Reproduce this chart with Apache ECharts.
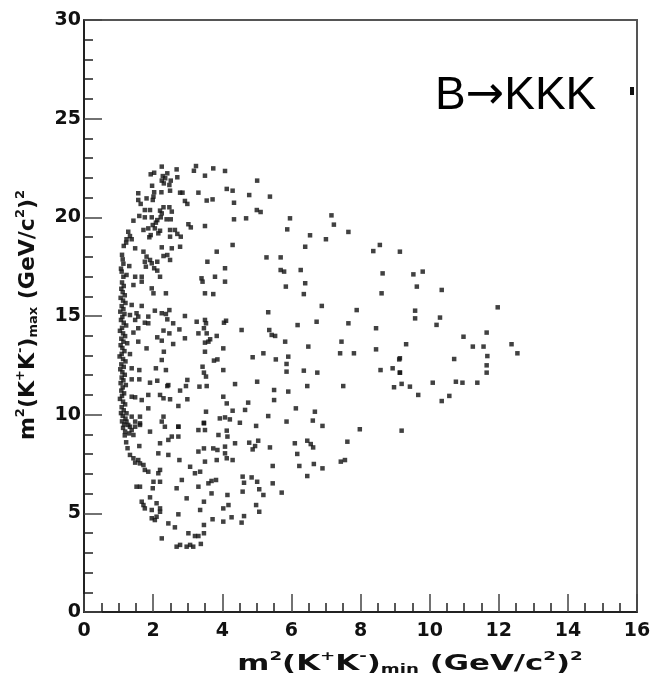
<!DOCTYPE html>
<html>
<head>
<meta charset="utf-8">
<script src="https://cdn.jsdelivr.net/npm/echarts@6/dist/echarts.min.js"></script>
<style>
  html, body { margin: 0; padding: 0; background: #fff; }
  #chart { width: 654px; height: 693px; }
</style>
</head>
<body>
<div id="chart"></div>
<script>
// B -> KKK Dalitz plot: m2(K+K-)max vs m2(K+K-)min
var xRange = [0, 16];
var yRange = [0, 30];
var xStep = 2;
var yStep = 5;

// dense phi band near m2min ~ 1.04
var phiBand = [
  [1.10,16.70],[1.15,16.52],[1.08,16.38],[1.12,16.21],[1.18,16.05],[1.06,15.92],[1.13,15.78],[1.20,15.66],
  [1.09,15.50],[1.14,15.35],[1.05,15.22],[1.17,15.10],[1.11,14.95],[1.07,14.80],[1.15,14.66],[1.22,14.52],
  [1.10,14.40],[1.04,14.25],[1.13,14.12],[1.19,13.98],[1.08,13.85],[1.14,13.70],[1.25,13.62],[1.06,13.52],
  [1.11,13.38],[1.17,13.22],[1.09,13.08],[1.03,12.95],[1.13,12.82],[1.20,12.70],[1.08,12.55],[1.15,12.42],
  [1.05,12.30],[1.11,12.15],[1.18,12.02],[1.09,11.88],[1.14,11.74],[1.06,11.60],[1.21,11.50],[1.12,11.38],
  [1.08,11.22],[1.16,11.08],[1.10,10.95],[1.04,10.80],[1.13,10.66],[1.19,10.52],[1.09,10.38],[1.15,10.22],
  [1.07,10.08],[1.12,9.94],[1.20,9.80],[1.10,9.66],[1.16,9.50],[1.13,9.33],
  [1.15,18.55],[1.10,18.10],[1.14,17.65],[1.07,17.40],[1.18,8.95],[1.22,8.60],[1.26,8.30]
];

var upperLeft = [
  [2.25,22.57],[1.93,22.18],[2.03,22.26],[2.28,22.09],[2.35,21.98],[2.41,22.23],[2.68,22.43],[3.18,22.36],
  [3.24,22.60],[3.50,22.11],[3.74,22.48],[4.08,22.35],[2.25,21.86],[2.31,21.72],[2.51,21.86],[2.47,21.64],
  [2.70,22.03],[1.97,21.60],[2.03,21.27],[2.24,21.27],[2.49,21.35],[2.78,21.25],[2.85,21.25],[3.31,21.25],
  [1.57,21.22],[4.13,21.44],[1.81,20.96],[1.99,20.88],[2.01,21.05],[1.57,20.88],[1.64,20.68],[2.92,20.83],
  [2.99,20.68],[3.55,20.85],[3.72,20.91],[1.76,20.37],[1.91,20.37],[2.20,20.34],[2.30,20.51],[2.25,20.20],
  [2.47,20.51],[2.54,20.29],[1.60,20.07],[1.76,20.00],[1.96,20.00],[2.12,19.86],[2.22,20.00],[2.08,19.73],
  [2.39,19.90],[2.51,19.90],[1.43,19.83],[3.02,19.65],[3.09,19.49],[3.50,19.56],[1.72,19.36],[1.86,19.44],
  [1.99,19.61],[2.05,19.44],[2.20,19.32],[2.15,19.19],[2.49,19.36],[2.63,19.36],[2.70,19.16],[2.80,19.02],
  [2.49,19.02],[1.28,19.27],[1.33,19.05],[1.38,18.89],[1.22,18.72],[1.23,18.89],[1.89,18.99],[1.93,19.10],
  [1.48,18.43],[2.25,18.48],[2.54,18.43],[2.78,18.51],[1.72,18.26],[1.81,18.01],[1.91,17.84],[1.76,17.75],
  [1.79,17.50],[1.96,17.67],[2.12,17.75],[2.03,17.42],[2.12,17.30],[2.30,18.04],[2.41,18.09],[2.49,17.84],
  [1.12,17.87],[1.31,17.53],[3.84,18.26],[3.57,17.75],[4.08,17.42],[1.09,17.25],[1.14,16.99],[1.23,17.08],
  [1.67,16.99],[1.48,16.99],[2.20,16.99],[3.40,16.91],[3.79,16.99]
];

var midLeft = [
  [1.43,16.57],[1.67,16.74],[1.96,16.40],[2.01,16.15],[2.37,16.15],[3.43,16.74],[4.08,16.74],[3.50,16.15],
  [3.74,16.11],[1.38,15.56],[1.67,15.51],[1.52,15.14],[1.33,15.05],[1.57,14.97],[1.48,14.80],[1.86,14.97],
  [2.05,15.27],[2.25,15.14],[2.37,15.10],[2.47,15.30],[2.41,14.83],[2.58,14.63],[2.92,15.00],[1.86,14.63],
  [1.76,14.66],[3.26,14.71],[3.50,14.80],[3.53,14.63],[4.11,14.76],[4.05,14.66],[3.47,14.38],[1.43,14.16],
  [1.57,14.38],[2.30,14.26],[2.47,14.12],[2.76,14.32],[2.12,13.92],[2.25,13.75],[2.58,13.58],[2.92,13.87],
  [3.31,14.12],[3.55,14.12],[3.84,13.99],[3.60,13.70],[3.50,13.65],[3.65,13.82],[1.33,13.07],[1.57,13.70],
  [1.81,13.36],[2.25,12.77],[2.31,13.19],[3.50,13.19],[4.03,13.36],[3.86,12.80],[3.76,12.74],[1.38,12.35],
  [1.60,12.26],[2.08,12.35],[2.37,12.26],[3.43,12.43],[3.47,12.13],[3.53,11.93],[4.03,12.26],[1.38,11.79],
  [1.60,11.79],[1.91,11.62],[2.12,11.72],[2.44,11.50],[2.78,11.22],[2.99,11.76],[2.95,11.45],[2.41,11.45],
  [3.34,11.42],[3.55,11.45],[1.38,10.91],[1.48,10.88],[1.67,10.74],[1.86,11.00],[2.20,11.00],[2.30,10.83],
  [2.49,10.78],[2.73,10.44],[2.99,10.78],[4.03,10.91],[4.13,10.57],[1.86,10.32],[1.23,10.07],[1.38,9.90],
  [1.62,9.90],[2.30,9.90],[3.53,10.15],[3.93,9.81],[4.08,9.86],[1.28,9.48],[1.48,9.39],[1.62,9.48],
  [2.34,9.39],[2.73,9.39],[3.47,9.56]
];

var lowerLeft = [
  [1.23,9.65],[1.48,9.65],[1.62,9.56],[1.33,9.39],[1.19,9.14],[1.31,9.05],[1.43,8.97],[1.38,9.22],
  [1.91,9.14],[2.25,9.65],[2.73,9.39],[2.54,8.89],[2.73,8.89],[2.20,8.55],[2.44,8.72],[1.60,8.41],
  [2.15,8.04],[2.44,7.96],[3.31,9.22],[3.50,9.22],[3.47,9.59],[3.89,8.97],[1.33,7.96],[1.43,7.79],
  [1.48,7.57],[1.57,7.70],[1.62,7.53],[1.72,7.45],[1.76,7.20],[1.86,7.11],[2.20,7.20],[2.15,7.03],
  [2.76,7.70],[3.07,7.36],[3.21,7.03],[3.36,7.11],[3.31,8.13],[3.47,8.29],[3.50,7.62],[3.74,8.29],
  [3.86,8.21],[3.84,7.70],[1.52,6.35],[1.62,6.35],[2.01,6.60],[1.99,6.27],[2.20,6.60],[2.83,6.69],
  [2.68,6.27],[3.31,6.35],[3.60,6.52],[3.69,6.64],[3.82,6.69],[3.69,6.01],[1.67,5.59],[1.76,5.25],
  [1.72,5.42],[1.91,5.81],[1.96,5.17],[2.10,5.51],[2.20,5.25],[2.20,5.08],[1.96,4.75],[2.05,4.66],
  [2.10,4.83],[2.44,4.49],[2.63,4.29],[2.73,4.95],[2.97,5.76],[3.36,5.17],[3.47,5.59],[3.47,4.41],
  [3.72,4.70],[2.25,3.73],[3.02,3.99],[3.21,3.85],[3.31,3.85],[3.47,3.99],[2.68,3.31],[2.78,3.40],
  [2.97,3.31],[3.07,3.40],[3.16,3.31],[3.38,3.45]
];

var upperMid = [
  [5.01,21.86],[4.30,21.35],[4.78,21.13],[5.38,21.05],[4.34,20.74],[5.00,20.37],[5.11,20.27],[4.34,19.90],
  [4.69,19.95],[5.96,19.95],[5.88,19.39],[7.16,20.10],[7.23,19.63],[7.65,19.26],[6.54,19.09],[7.00,18.89],
  [4.30,18.60],[6.40,18.51],[8.37,18.29],[8.56,18.60],[5.28,17.97],[5.69,17.97],[5.69,17.33],[5.79,17.25],
  [6.27,17.33],[8.64,17.16],[5.84,16.49],[6.40,16.66],[6.36,16.11],[8.61,16.15],[5.33,15.19],[6.88,15.51],
  [7.89,15.30],[4.56,14.29],[5.36,14.29],[5.43,14.04],[5.53,13.99],[6.18,14.54],[6.73,14.71],[7.65,14.63],
  [8.45,14.38],[5.82,13.70],[7.45,13.70]
];

var lowerMid = [
  [6.49,13.45],[8.45,13.31],[4.88,12.91],[5.19,13.11],[5.55,12.80],[5.91,12.94],[5.86,12.57],[7.41,13.11],
  [7.81,13.11],[9.12,12.80],[8.93,12.35],[8.58,12.26],[9.14,12.13],[5.86,12.18],[6.36,12.23],[6.75,12.13],
  [4.37,11.55],[5.01,11.67],[5.50,11.25],[5.91,11.17],[6.46,11.45],[7.50,11.45],[8.97,11.39],[5.50,10.74],
  [4.75,10.61],[4.66,10.24],[4.30,10.20],[6.13,10.32],[6.68,10.15],[4.22,9.76],[4.51,9.59],[5.33,9.93],
  [5.86,9.65],[6.62,9.70],[6.90,9.43],[4.98,9.43],[7.98,9.26],[4.13,9.19],[4.15,8.89],[4.37,8.55],
  [4.78,8.58],[5.04,8.68],[4.88,8.24],[4.95,8.41],[5.38,8.34],[6.10,8.55],[6.46,8.68],[6.56,8.51],
  [6.63,8.34],[7.62,8.63],[4.08,8.38],[4.08,8.04],[4.13,7.79],[4.30,7.70],[6.17,8.01],[5.46,7.40],
  [6.23,7.40],[6.65,7.50],[6.90,7.28],[7.43,7.62],[7.55,7.70],[4.59,6.86],[4.63,6.55],[4.85,6.82],
  [5.01,6.60],[5.07,6.22],[5.19,5.93],[5.46,6.52],[5.72,6.05],[6.46,6.89],[4.15,5.93],[4.59,6.10],
  [4.98,5.42],[5.07,5.08],[4.18,5.42],[4.03,5.25],[4.27,4.80],[4.03,4.58],[4.63,4.86],[4.56,4.53]
];

var rightLobe = [
  [9.14,18.26],[9.53,17.11],[9.80,17.25],[9.63,16.49],[10.35,16.32],[9.58,15.27],[9.58,14.88],[10.30,14.92],
  [10.20,14.55],[11.97,15.44],[10.98,13.95],[11.65,14.16],[9.32,13.57],[11.25,13.45],[11.56,13.45],[12.37,13.57],
  [12.54,13.11],[9.14,12.86],[10.71,12.82],[11.67,12.97],[11.65,12.50],[11.65,12.13],[9.14,12.13],[9.19,11.56],
  [9.43,11.42],[10.09,11.62],[10.76,11.67],[10.95,11.62],[11.38,11.62],[9.67,11.00],[10.57,10.95],[10.35,10.69],
  [9.19,9.19]
];

var events = [].concat(phiBand, upperLeft, midLeft, lowerLeft, upperMid, lowerMid, rightLobe);

var titleFont = 'DejaVu Sans';
var titleRich = {
  sup: { fontSize: 13, fontWeight: 'bold', fontFamily: titleFont, padding: [0, 0, 14, 0] },
  sub: { fontSize: 13, fontWeight: 'bold', fontFamily: titleFont, padding: [12, 0, 0, 0] }
};

var chart = echarts.init(document.getElementById('chart'), null, { renderer: 'canvas' });
chart.setOption({
  animation: false,
  backgroundColor: '#fff',
  grid: {
    left: 84, right: 17, top: 20, bottom: 81,
    show: true, borderColor: '#555', borderWidth: 2, backgroundColor: 'transparent'
  },
  xAxis: {
    type: 'value', min: xRange[0], max: xRange[1], interval: xStep,
    axisLine: { lineStyle: { color: '#111', width: 1.5 } },
    axisTick: { inside: true, length: 18, lineStyle: { color: '#444', width: 1.5 } },
    minorTick: { show: true, splitNumber: 4, length: 9, lineStyle: { color: '#222', width: 1.5 } },
    splitLine: { show: false },
    axisLabel: { color: '#111', fontFamily: 'DejaVu Sans', fontWeight: 'bold', fontSize: 19, margin: 10 }
  },
  yAxis: {
    type: 'value', min: yRange[0], max: yRange[1], interval: yStep,
    axisLine: { lineStyle: { color: '#111', width: 1.5 } },
    axisTick: { inside: true, length: 18, lineStyle: { color: '#444', width: 1.5 } },
    minorTick: { show: true, splitNumber: 5, length: 9, lineStyle: { color: '#222', width: 1.5 } },
    splitLine: { show: false },
    axisLabel: { color: '#111', fontFamily: 'DejaVu Sans', fontWeight: 'bold', fontSize: 19, margin: 3 }
  },
  series: [{
    type: 'scatter',
    data: events,
    symbol: 'rect',
    symbolSize: 4.5,
    itemStyle: { color: '#111' }
  }],
  graphic: [
    { type: 'rect', shape: { x: 415, y: 68, width: 214, height: 62 }, style: { fill: '#fff' }, z: 10 },
    { type: 'text', x: 435, y: 73, z: 11,
      style: {
        text: 'B{arr|\u2192}KKK',
        rich: { arr: { fontFamily: 'DejaVu Sans', fontSize: 46, fontWeight: 'normal' } },
        fill: '#000', font: '46px "Liberation Sans", Arial, sans-serif'
      } },
    { type: 'rect', shape: { x: 630, y: 87, width: 4, height: 8 }, style: { fill: '#111' }, z: 11 },
    { type: 'text', x: 410, y: 664, scaleX: 1.4, z: 11,
      style: {
        text: 'm{sup|2}(K{sup|+}K{sup|-}){sub|min} (GeV/c{sup|2}){sup|2}',
        rich: titleRich, fill: '#111', align: 'center', verticalAlign: 'middle',
        fontFamily: titleFont, fontWeight: 'bold', fontSize: 22
      } },
    { type: 'text', x: 28, y: 315, rotation: Math.PI / 2, z: 11,
      style: {
        text: 'm{sup|2}(K{sup|+}K{sup|-}){sub|max} (GeV/c{sup|2}){sup|2}',
        rich: titleRich, fill: '#111', align: 'center', verticalAlign: 'middle',
        fontFamily: titleFont, fontWeight: 'bold', fontSize: 22
      } }
  ]
});
</script>
</body>
</html>
